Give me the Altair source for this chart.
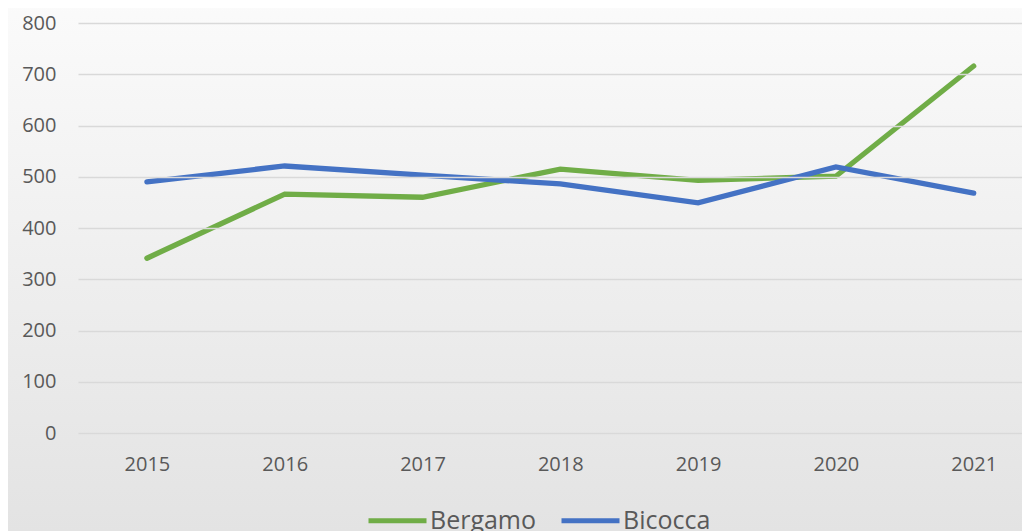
import altair as alt
import pandas as pd

years = [2015, 2016, 2017, 2018, 2019, 2020, 2021]
bergamo = [341, 466, 460, 515, 493, 501, 716]
bicocca = [490, 521, 503, 486, 449, 519, 468]
series_names = ["Bergamo", "Bicocca"]
series_colors = ["#70AD47", "#4472C4"]
y_ticks = [0, 100, 200, 300, 400, 500, 600, 700, 800]

rows = []
for y, b, c in zip(years, bergamo, bicocca):
    rows.append({"Anno": y, "Serie": "Bergamo", "Valore": b})
    rows.append({"Anno": y, "Serie": "Bicocca", "Valore": c})
df = pd.DataFrame(rows)

W, H = 944, 410
FONT = "Open Sans"

bg = alt.Chart(pd.DataFrame({"a": [0]})).mark_rect(
    color=alt.Gradient(
        gradient="linear",
        stops=[alt.GradientStop(color="#fbfbfb", offset=0),
               alt.GradientStop(color="#e2e2e2", offset=1)],
        x1=0, x2=0, y1=0, y2=1,
    )
).encode(x=alt.value(-80), x2=alt.value(W + 20), y=alt.value(-30), y2=alt.value(H + 120))

lines = alt.Chart(df).mark_line(strokeWidth=5.3, strokeCap="round", strokeJoin="miter").encode(
    x=alt.X("Anno:Q",
            scale=alt.Scale(domain=[2014.5, 2014.5 + W / 137.8], nice=False, zero=False),
            axis=alt.Axis(values=years, format="d", title=None, grid=False, ticks=False,
                          domain=False, labelFontSize=20, labelColor="#595959",
                          labelFont=FONT, labelPadding=21, zindex=1)),
    y=alt.Y("Valore:Q",
            scale=alt.Scale(domain=[0, 800], nice=False),
            axis=alt.Axis(values=y_ticks, title=None, ticks=False, domain=False,
                          gridColor="#d9d9d9", gridWidth=1.5, labelFontSize=20,
                          labelColor="#595959", labelFont=FONT, labelPadding=22,
                          zindex=1)),
    color=alt.Color("Serie:N",
                    scale=alt.Scale(domain=series_names, range=series_colors),
                    legend=alt.Legend(title=None, orient="none", direction="horizontal",
                                      legendX=288, legendY=466,
                                      symbolType="stroke", symbolSize=3364,
                                      symbolStrokeWidth=5, labelFontSize=25,
                                      labelFont=FONT, labelColor="#595959",
                                      labelOffset=1, columnPadding=14, zindex=1)),
)

chart = alt.layer(bg, lines).properties(
    width=W, height=H,
    autosize=alt.AutoSizeParams(type="none"),
    padding={"left": 70, "top": 15, "right": 0, "bottom": 98},
).configure_view(stroke=None).configure(background="#ffffff")

chart.save("out.html", embed_options={"renderer": "svg", "actions": False})
